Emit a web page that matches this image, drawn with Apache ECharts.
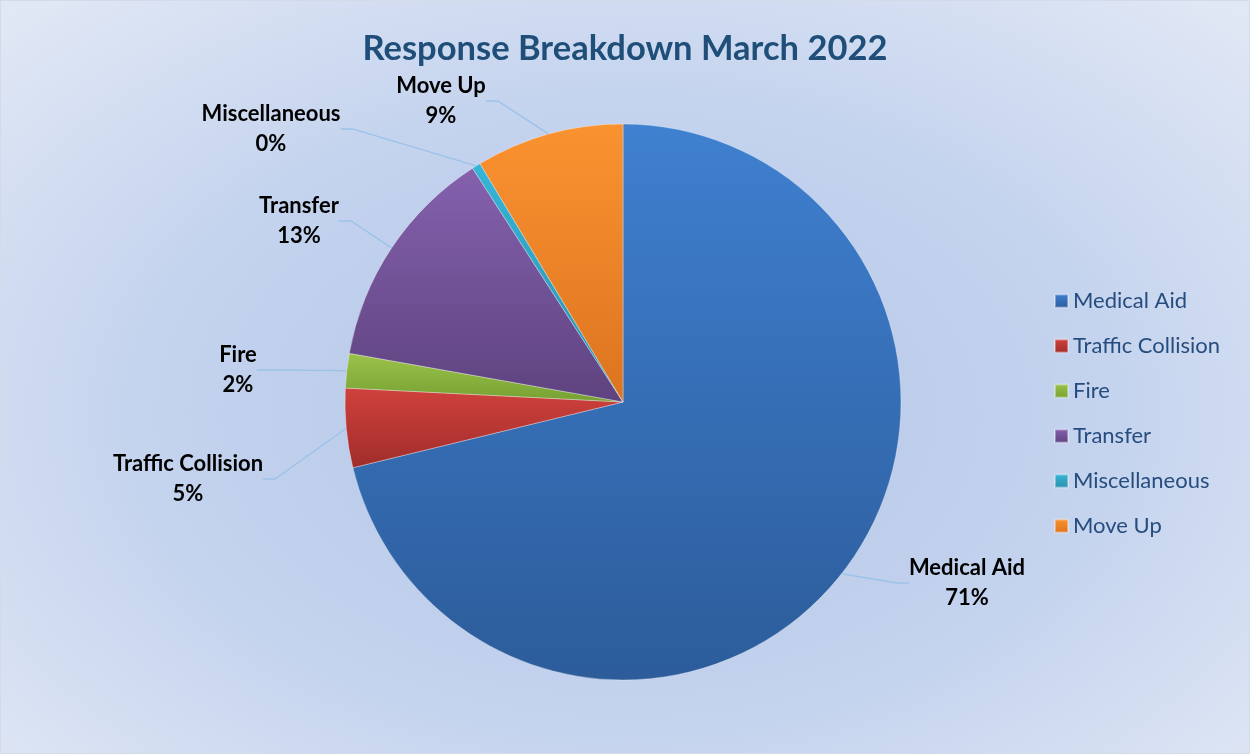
<!DOCTYPE html>
<html>
<head>
<meta charset="utf-8">
<script src="https://cdn.jsdelivr.net/npm/echarts@6/dist/echarts.min.js"></script>
<style>
html,body{margin:0;padding:0;}
#chart{width:1248px;height:752px;border:1px solid #d3dbe8;
background:radial-gradient(ellipse 70% 75% at 50% 55%, #b3c6e7 0%, #c4d3ee 55%, #e1e8f5 100%);}
</style>
</head>
<body>
<div id="chart"></div>
<script>
const titleText = 'Response Breakdown March 2022';
const categories = ['Medical Aid', 'Traffic Collision', 'Fire', 'Transfer', 'Miscellaneous', 'Move Up'];
const values = [712, 46, 20, 131, 5, 86];
const topColors = ['#3f80d0', '#d0413d', '#9bc34a', '#8561ae', '#37b5d6', '#fb9230'];
const bottomColors = ['#2c5c9a', '#a02d2a', '#76a032', '#5e437f', '#2a90ae', '#dc7420'];

// label block centres (layout only)
const labelSpots = {
  'Medical Aid': [966, 582],
  'Traffic Collision': [187, 478],
  'Fire': [237, 369],
  'Transfer': [298, 220],
  'Miscellaneous': [270, 128],
  'Move Up': [440, 100]
};

const chart = echarts.init(document.getElementById('chart'));
const data = categories.map((c, i) => ({
  name: c,
  value: values[i],
  itemStyle: {
    color: new echarts.graphic.LinearGradient(0, 0, 0, 1, [
      {offset: 0, color: topColors[i]},
      {offset: 1, color: bottomColors[i]}
    ])
  }
}));

chart.setOption({
  backgroundColor: 'transparent',
  title: {
    text: titleText,
    left: 'center',
    top: 25,
    textStyle: {fontFamily: 'Lato', fontWeight: 'bold', fontSize: 34.5, color: '#1f4e79'}
  },
  legend: {
    orient: 'vertical',
    left: 1048,
    top: 284,
    itemWidth: 13,
    itemHeight: 13,
    itemGap: 23,
    icon: 'rect',
    textStyle: {fontFamily: 'Lato', fontSize: 22, lineHeight: 22, color: '#264d7e'},
    data: categories
  },
  series: [{
    type: 'pie',
    center: [622, 401],
    radius: 278,
    startAngle: 90,
    clockwise: true,
    percentPrecision: 0,
    avoidLabelOverlap: false,
    data: data,
    itemStyle: {borderColor: 'rgba(255,255,255,0.35)', borderWidth: 0.5},
    emphasis: {disabled: true},
    label: {
      show: true,
      formatter: '{b}\n{d}%',
      fontFamily: 'Lato',
      fontWeight: 'bold',
      fontSize: 22,
      lineHeight: 30,
      color: '#000',
      align: 'center'
    },
    labelLine: {
      show: true,
      length: 20,
      length2: 12,
      lineStyle: {color: '#9cc2e8', width: 1.3}
    },
    labelLayout: function (params) {
      const name = categories[params.dataIndex];
      const p = labelSpots[name];
      return {x: p[0], y: p[1], align: 'center', verticalAlign: 'middle'};
    }
  }]
});
</script>
</body>
</html>
